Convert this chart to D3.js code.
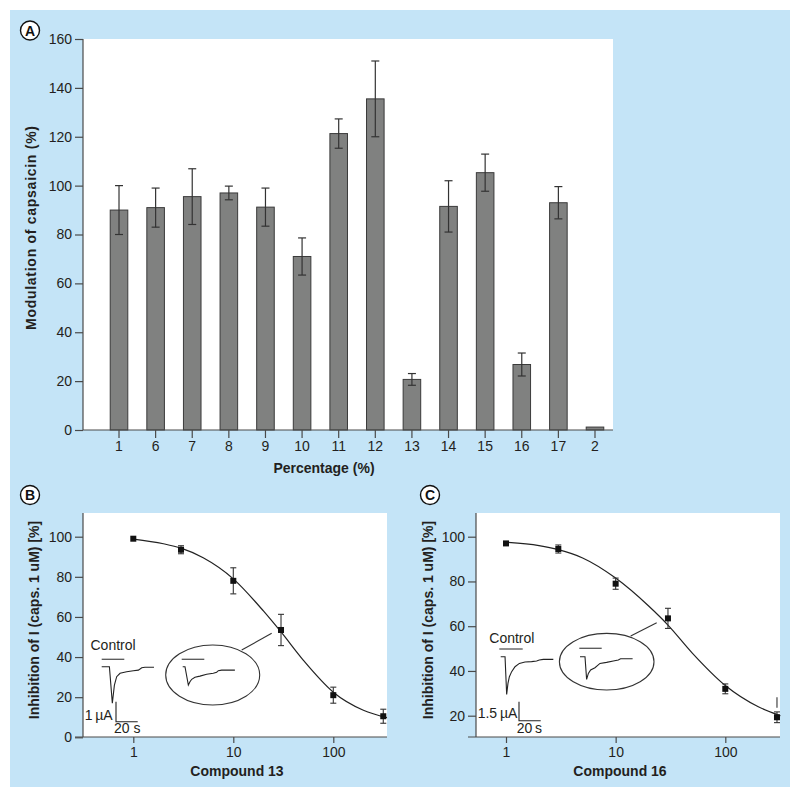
<!DOCTYPE html>
<html><head><meta charset="utf-8">
<script src="https://cdn.jsdelivr.net/npm/d3@7"></script>
<style>
html,body{margin:0;padding:0;background:#fff;}
svg{display:block;font-family:"Liberation Sans",Arial,Helvetica,sans-serif;}
</style></head>
<body>
<svg id="chart" width="800" height="798"></svg>
<script>
// ---------- Panel A data ----------
const catsA = ["1","6","7","8","9","10","11","12","13","14","15","16","17","2"];
const valsA = [90, 91, 95.5, 97, 91.2, 71, 121.3, 135.5, 20.7, 91.5, 105.3, 26.8, 93, 1.2];
const errsA = [10, 8, 11.4, 2.8, 7.8, 7.6, 6, 15.5, 2.4, 10.5, 7.6, 4.7, 6.6, 0];
const yTicksA = [0, 20, 40, 60, 80, 100, 120, 140, 160];

// ---------- Panel B data ----------
const doseB = [1, 3, 10, 30, 100, 316];
const inhB  = [99, 93.5, 78, 53.5, 21, 10.5];
const errB  = [0, 2, 6.5, 7.8, 4, 3.5];
const fitDoseB = [1, 2, 3, 5, 10, 20, 30, 50, 100, 200, 344];
const fitInhB  = [98.8, 96.5, 94.3, 89.5, 79, 63, 52.5, 38.5, 22.5, 13.5, 9.8];
const yTicksB = [0, 20, 40, 60, 80, 100];

// ---------- Panel C data ----------
const doseC = [1, 3, 10, 30, 100, 296];
const inhC  = [97, 94.5, 79, 63.5, 32, 19.3];
const errC  = [0, 1.8, 2.5, 4.5, 2.2, 2.4];
const strayC = [{dose: 296, y0: 23.5, y1: 28.3}];
const fitDoseC = [1, 2, 3, 5, 10, 20, 30, 50, 100, 200, 318];
const fitInhC  = [97.5, 96, 94.2, 90.5, 81.5, 69, 60.5, 48, 33.5, 24, 20];
const yTicksC = [20, 40, 60, 80, 100];
const xTicksLog = [1, 10, 100];

// ---------- Inset current traces (time s, current uA) ----------
const ctrlB_t = [0, 7.1, 9.8, 11.7, 13.8, 16.9, 23, 29.2, 33.8, 36.9, 39.9, 48.2];
const ctrlB_i = [0, 0, -1.83, -0.92, -0.5, -0.33, -0.25, -0.2, -0.17, -0.05, -0.03, -0.03];
const inhB_t  = [0, 2.1, 5.2, 6.7, 8.3, 11.3, 15.9, 22.1, 28.2, 31.3, 32.8, 35.9, 48.1];
const inhB_i  = [0, 0, -0.92, -0.75, -0.63, -0.53, -0.47, -0.38, -0.33, -0.28, -0.2, -0.17, -0.17];
const ctrlC_t = [0, 4, 5.5, 6.7, 8, 10.1, 13.2, 17.2, 22.4, 28.5, 33.1, 35.6, 39.3, 48.5];
const ctrlC_i = [0, 0, -2.98, -2.11, -1.58, -1.18, -0.79, -0.53, -0.42, -0.39, -0.34, -0.26, -0.21, -0.21];
const inhC_t  = [0, 4.6, 6.1, 7.7, 9.8, 13.8, 18.4, 24.5, 30.7, 35.3, 37.4, 42.9, 48.5];
const inhC_i  = [0, 0, -1.79, -1.32, -1.05, -0.87, -0.53, -0.45, -0.34, -0.26, -0.16, -0.16, -0.16];

const svg = d3.select("#chart");
const TXT = "#231f20", AX = "#4a4a4a", BG = "#c4e4f7";

svg.append("rect").attr("x", 10).attr("y", 10).attr("width", 780).attr("height", 777).attr("fill", BG);

function circleLabel(cx, cy, t) {
  svg.append("circle").attr("cx", cx).attr("cy", cy).attr("r", 9.5)
    .attr("fill", "#fff").attr("stroke", "#111").attr("stroke-width", 1.4);
  svg.append("text").attr("x", cx).attr("y", cy + 5).attr("text-anchor", "middle")
    .attr("font-size", 14).attr("font-weight", "bold").attr("fill", "#111").text(t);
}
function styleAxis(g) {
  g.select(".domain").remove();
  g.selectAll(".tick line").attr("stroke", AX).attr("stroke-width", 1.2);
  g.selectAll(".tick text").attr("fill", TXT).attr("font-size", 14)
    .attr("font-family", '"Liberation Sans",Arial,sans-serif');
}
function rotTitle(x, y, t, len) {
  const el = svg.append("text").attr("transform", `translate(${x},${y}) rotate(-90)`)
    .attr("text-anchor", "middle").attr("font-size", 14).attr("font-weight", "bold")
    .attr("fill", TXT).text(t);
  if (len) el.attr("textLength", len).attr("lengthAdjust", "spacing");
}
function hTitle(x, y, t) {
  svg.append("text").attr("x", x).attr("y", y).attr("text-anchor", "middle")
    .attr("font-size", 14).attr("font-weight", "bold").attr("fill", TXT).text(t);
}

// ================= Panel A =================
const A = {l: 83, r: 613, t: 39, b: 430};
svg.append("rect").attr("x", A.l).attr("y", A.t).attr("width", A.r - A.l).attr("height", A.b - A.t).attr("fill", "#fff");
const xA = d3.scaleBand().domain(catsA).range([100.7, 613.3]).paddingInner(0.52).paddingOuter(0.26);
const yA = d3.scaleLinear().domain([0, 160]).range([A.b, A.t]);

const gA = svg.append("g");
gA.selectAll("rect.bar").data(catsA).join("rect").attr("class", "bar")
  .attr("x", d => xA(d)).attr("width", xA.bandwidth())
  .attr("y", (d, i) => yA(valsA[i])).attr("height", (d, i) => yA(0) - yA(valsA[i]))
  .attr("fill", "#808180").attr("stroke", "#3a3a3a").attr("stroke-width", 1);
const capA = 4;
catsA.forEach((c, i) => {
  if (errsA[i] <= 0) return;
  const cx = xA(c) + xA.bandwidth() / 2;
  const y1 = yA(valsA[i] + errsA[i]), y2 = yA(valsA[i] - errsA[i]);
  gA.append("line").attr("x1", cx).attr("x2", cx).attr("y1", y1).attr("y2", y2).attr("stroke", "#333").attr("stroke-width", 1.2);
  [y1, y2].forEach(yy => gA.append("line").attr("x1", cx - capA).attr("x2", cx + capA).attr("y1", yy).attr("y2", yy).attr("stroke", "#333").attr("stroke-width", 1.2));
});
svg.append("g").attr("transform", `translate(${A.l},0)`)
  .call(d3.axisLeft(yA).tickValues(yTicksA).tickSize(8).tickPadding(3)).call(styleAxis);
svg.append("g").attr("transform", `translate(0,${A.b})`)
  .call(d3.axisBottom(xA).tickSize(8).tickPadding(3)).call(styleAxis);
svg.append("line").attr("x1", A.l).attr("x2", A.l).attr("y1", A.t).attr("y2", A.b).attr("stroke", AX).attr("stroke-width", 1.2);
svg.append("line").attr("x1", A.l).attr("x2", A.r).attr("y1", A.b).attr("y2", A.b).attr("stroke", AX).attr("stroke-width", 1.2);
rotTitle(36, 228, "Modulation of capsaicin (%)", 204);
hTitle(324, 473, "Percentage (%)");
circleLabel(30, 30.5, "A");

// ================= Dose-response panels =================
function dosePanel(cfg) {
  const P = cfg.box;
  svg.append("rect").attr("x", P.l).attr("y", P.t).attr("width", P.r - P.l).attr("height", P.b - P.t).attr("fill", "#fff");
  const x = d3.scaleLog().domain([1, 100]).range(cfg.xr);
  const y = d3.scaleLinear().domain(cfg.yd).range(cfg.yr);
  cfg.insets(x, y);
  const line = d3.line().x(d => x(d[0])).y(d => y(d[1])).curve(d3.curveMonotoneX);
  svg.append("path").datum(cfg.fitX.map((v, i) => [v, cfg.fitY[i]]))
    .attr("d", line).attr("fill", "none").attr("stroke", "#222").attr("stroke-width", 1.2);
  const cap = 3;
  cfg.dose.forEach((dv, i) => {
    if (cfg.err[i] <= 0) return;
    const cx = x(dv), y1 = y(cfg.val[i] + cfg.err[i]), y2 = y(cfg.val[i] - cfg.err[i]);
    svg.append("line").attr("x1", cx).attr("x2", cx).attr("y1", y1).attr("y2", y2).attr("stroke", "#333").attr("stroke-width", 1.1);
    [y1, y2].forEach(yy => svg.append("line").attr("x1", cx - cap).attr("x2", cx + cap).attr("y1", yy).attr("y2", yy).attr("stroke", "#333").attr("stroke-width", 1.1));
  });
  (cfg.stray || []).forEach(s => {
    svg.append("line").attr("x1", x(s.dose)).attr("x2", x(s.dose)).attr("y1", y(s.y0)).attr("y2", y(s.y1)).attr("stroke", "#333").attr("stroke-width", 1.1);
  });
  svg.selectAll(null).data(cfg.dose).enter().append("rect")
    .attr("x", d => x(d) - 3).attr("y", (d, i) => y(cfg.val[i]) - 3)
    .attr("width", 6).attr("height", 6).attr("fill", "#111");
  svg.append("g").attr("transform", `translate(${P.l},0)`)
    .call(d3.axisLeft(y).tickValues(cfg.yt).tickSize(8).tickPadding(3)).call(styleAxis);
  svg.append("g").attr("transform", `translate(0,${P.b})`)
    .call(d3.axisBottom(x).tickValues(xTicksLog).tickFormat(d3.format("d")).tickSize(6).tickPadding(4)).call(styleAxis);
  svg.append("line").attr("x1", P.l).attr("x2", P.l).attr("y1", P.t).attr("y2", P.b).attr("stroke", AX).attr("stroke-width", 1.2);
  svg.append("line").attr("x1", P.l - 8).attr("x2", P.r).attr("y1", P.b).attr("y2", P.b).attr("stroke", AX).attr("stroke-width", 1.2);
  rotTitle(cfg.ytX, 620, "Inhibition of I (caps. 1 uM) [%]");
  hTitle(cfg.xtX, 776, cfg.xTitle);
  circleLabel(cfg.lab[0], cfg.lab[1], cfg.lab[2]);
}

function drawTrace(t, i, x0, y0, pxPerS, pxPerUA) {
  const xs = d3.scaleLinear().domain([0, 1]).range([x0, x0 + pxPerS]);
  const ys = d3.scaleLinear().domain([0, -1]).range([y0, y0 + pxPerUA]);
  svg.append("path").datum(t.map((v, k) => [v, i[k]]))
    .attr("d", d3.line().x(d => xs(d[0])).y(d => ys(d[1])))
    .attr("fill", "none").attr("stroke", "#222").attr("stroke-width", 1.1);
}
function appBar(x1, x2, yy) {
  svg.append("line").attr("x1", x1).attr("x2", x2).attr("y1", yy).attr("y2", yy).attr("stroke", "#555").attr("stroke-width", 1.3);
}
function txt(x, y, t, anchor) {
  svg.append("text").attr("x", x).attr("y", y).attr("text-anchor", anchor || "start")
    .attr("font-size", 14).attr("fill", TXT).text(t);
}

// Panel B
dosePanel({
  box: {l: 83, r: 387, t: 513, b: 737},
  xr: [133.3, 333.3], yd: [0, 100], yr: [737.3, 536.7], yt: yTicksB,
  dose: doseB, val: inhB, err: errB, fitX: fitDoseB, fitY: fitInhB,
  ytX: 39, xtX: 237, xTitle: "Compound 13", lab: [30, 495, "B"],
  insets: () => {
    const sPx = 21.7 / 20, aPx = 20;
    txt(90.5, 649.5, "Control");
    appBar(101.7, 124.3, 659.3);
    drawTrace(ctrlB_t, ctrlB_i, 101.7, 666.7, sPx, aPx);
    svg.append("path").attr("d", `M116,701.7 V721.7 H137.7`).attr("fill", "none").attr("stroke", "#222").attr("stroke-width", 1.1);
    txt(112.7, 720, "1\u2009µA", "end");
    txt(114, 733.3, "20 s");
    svg.append("ellipse").attr("cx", 212.7).attr("cy", 675).attr("rx", 47).attr("ry", 30)
      .attr("fill", "none").attr("stroke", "#333").attr("stroke-width", 1.1);
    appBar(181.7, 204.3, 659.3);
    drawTrace(inhB_t, inhB_i, 182.7, 666.7, sPx, aPx);
    svg.append("line").attr("x1", 241.7).attr("y1", 650).attr("x2", 271.7).attr("y2", 633.3).attr("stroke", "#333").attr("stroke-width", 1.1);
  }
});

// Panel C
dosePanel({
  box: {l: 476, r: 780, t: 513, b: 737},
  xr: [506, 725.3], yd: [20, 100], yr: [715.7, 536.7], yt: yTicksC,
  dose: doseC, val: inhC, err: errC, stray: strayC, fitX: fitDoseC, fitY: fitInhC,
  ytX: 433, xtX: 620, xTitle: "Compound 16", lab: [430, 495, "C"],
  insets: () => {
    const sPx = 21.7 / 20, aPx = 19 / 1.5;
    txt(489.3, 643.3, "Control");
    appBar(499.3, 522.7, 649);
    drawTrace(ctrlC_t, ctrlC_i, 500.7, 656.7, sPx, aPx);
    svg.append("path").attr("d", `M519,701.7 V720.7 H540.7`).attr("fill", "none").attr("stroke", "#222").attr("stroke-width", 1.1);
    txt(517.3, 718.3, "1.5\u2009µA", "end");
    txt(516.7, 732.7, "20\u2009s");
    svg.append("ellipse").attr("cx", 606.7).attr("cy", 661.7).attr("rx", 47.3).attr("ry", 28.3)
      .attr("fill", "none").attr("stroke", "#333").attr("stroke-width", 1.1);
    appBar(579.3, 601.7, 648.3);
    drawTrace(inhC_t, inhC_i, 580, 656.7, sPx, aPx);
    svg.append("line").attr("x1", 630.7).attr("y1", 636).attr("x2", 656.7).attr("y2", 622.7).attr("stroke", "#333").attr("stroke-width", 1.1);
  }
});
</script>
</body></html>
